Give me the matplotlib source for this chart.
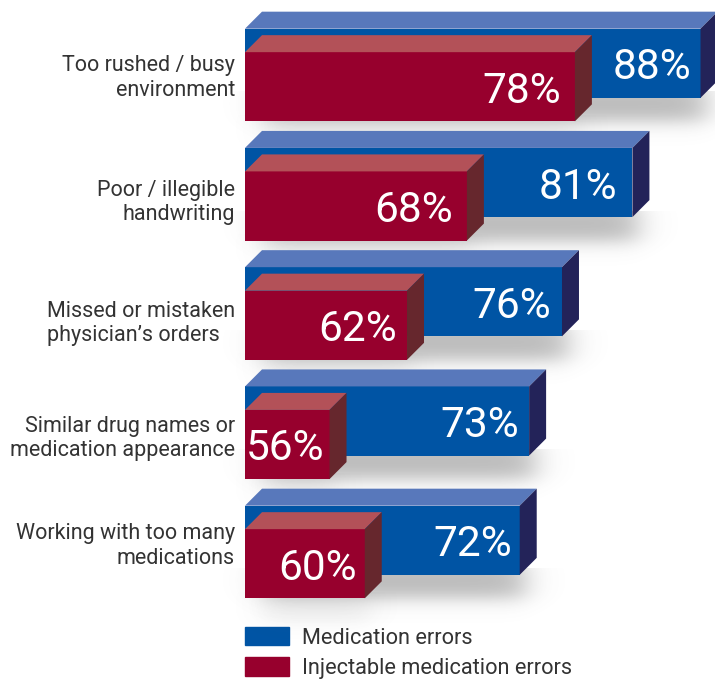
import numpy as np
import matplotlib
matplotlib.use('Agg')
import matplotlib.pyplot as plt
from matplotlib.patches import Polygon, Patch

plt.rcParams['font.family'] = ['Roboto', 'DejaVu Sans']

categories = ['Too rushed / busy\nenvironment', 'Poor / illegible\nhandwriting',
              'Missed or mistaken\nphysician\u2019s orders',
              'Similar drug names or\nmedication appearance',
              'Working with too many\nmedications']
# printed percentages
medication_errors = [88, 81, 76, 73, 72]
injectable_errors = [78, 68, 62, 56, 60]
# bar lengths as drawn: the original bars are not quite in proportion to their labels
medication_drawn = [87.7, 81.9, 75.9, 73.1, 72.3]
injectable_drawn = [77.0, 67.8, 62.7, 56.1, 59.1]

# colours: front, top, side
BLUE = ('#0054a4', '#5878bb', '#232359')
RED = ('#97002d', '#b35158', '#66272d')
TEXT = '#333333'

W, H = 715, 679
AXIS_BASE = 48.9        # the bars start here, the axis is cut
PX_X = 11.74            # px per percent
PX_Y = 119.25           # px per row
DEPTH_X = 17 / PX_X
DEPTH_Y = 17 / PX_Y
BAR_H = 0.58
OFFSET = 0.0985

# gap between number and bar end, px
medication_gap = [9, 15, 11, 10, 8]
injectable_gap = [14, 14, 10, 5, 8]
# label blocks sit a little off the row centre in the original
label_nudge = [3, 8, 10, 6, -6]
label_align = ['right', 'right', 'left', 'right', 'right']

fig = plt.figure(figsize=(W / 100, H / 100), dpi=100)
ax = fig.add_axes([0, 0, 1, 1])
ax.axis('off')


def soft_edge(t, lo, hi, width):
    return 0.5 * (np.tanh((t - lo) / width) - np.tanh((t - hi) / width))


def draw_shadow(row, y_bottom, value, strength):
    x0 = AXIS_BASE
    x1 = value + DEPTH_X
    xs = np.linspace(x0 - 3, x1 + 4, 300)
    ys = np.linspace(y_bottom - 0.05, y_bottom + 0.45, 100)
    xx, yy = np.meshgrid(xs, ys)
    a = soft_edge(xx, x0 + 1.5, x1 - 1.0, 1.5) * soft_edge(yy, y_bottom - 0.1, y_bottom + 0.2, 0.09)
    img = np.zeros(a.shape + (4,))
    img[..., :3] = 0.35
    img[..., 3] = np.clip(a * strength, 0, 1)
    ax.imshow(img, extent=(xs[0], xs[-1], ys[-1], ys[0]), aspect='auto', zorder=row * 3 + 1,
              interpolation='bilinear')


def draw_bar(row, center, value, colors, label, gap):
    front, top, side = colors
    y_top = center - BAR_H / 2
    y_bot = center + BAR_H / 2
    z = row * 3 + 2
    ax.barh(center, value - AXIS_BASE, height=BAR_H, left=AXIS_BASE, color=front, zorder=z)
    ax.add_patch(Polygon([(AXIS_BASE, y_top), (AXIS_BASE + DEPTH_X, y_top - DEPTH_Y),
                          (value + DEPTH_X, y_top - DEPTH_Y), (value, y_top)],
                         color=top, lw=0, zorder=z))
    ax.add_patch(Polygon([(value, y_top), (value + DEPTH_X, y_top - DEPTH_Y),
                          (value + DEPTH_X, y_bot - DEPTH_Y), (value, y_bot)],
                         color=side, lw=0, zorder=z))
    ax.text(value - gap / PX_X, center, label, color='white', fontsize=30.5,
            ha='right', va='center_baseline', zorder=z + 0.5)


for i in range(len(categories)):
    blue_y = i - OFFSET
    red_y = i + OFFSET
    draw_shadow(i, blue_y + BAR_H / 2, medication_drawn[i], 0.42)
    draw_shadow(i, red_y + BAR_H / 2, injectable_drawn[i], 0.10)
    draw_bar(i, blue_y, medication_drawn[i], BLUE, f'{medication_errors[i]}%', medication_gap[i])
    draw_bar(i, red_y, injectable_drawn[i], RED, f'{injectable_errors[i]}%', injectable_gap[i])
    ax.text(AXIS_BASE - 10 / PX_X, i + label_nudge[i] / PX_Y, categories[i], color=TEXT,
            fontsize=15.5, ha='right', va='center', ma=label_align[i], linespacing=1.2)

ax.set_xlim(AXIS_BASE - 245 / PX_X, AXIS_BASE + 470 / PX_X)
ax.set_ylim(604 / PX_Y, -75 / PX_Y)

handles = [Patch(color=BLUE[0], label='Medication errors'),
           Patch(color=RED[0], label='Injectable medication errors')]
ax.legend(handles=handles, loc='lower left', bbox_to_anchor=(245 / W, 0.0), frameon=False,
          fontsize=15.7, handlelength=2.0, handleheight=0.92, handletextpad=0.6,
          labelspacing=0.4, borderpad=0, borderaxespad=0, labelcolor=TEXT)

fig.savefig('out.png', dpi=100)
